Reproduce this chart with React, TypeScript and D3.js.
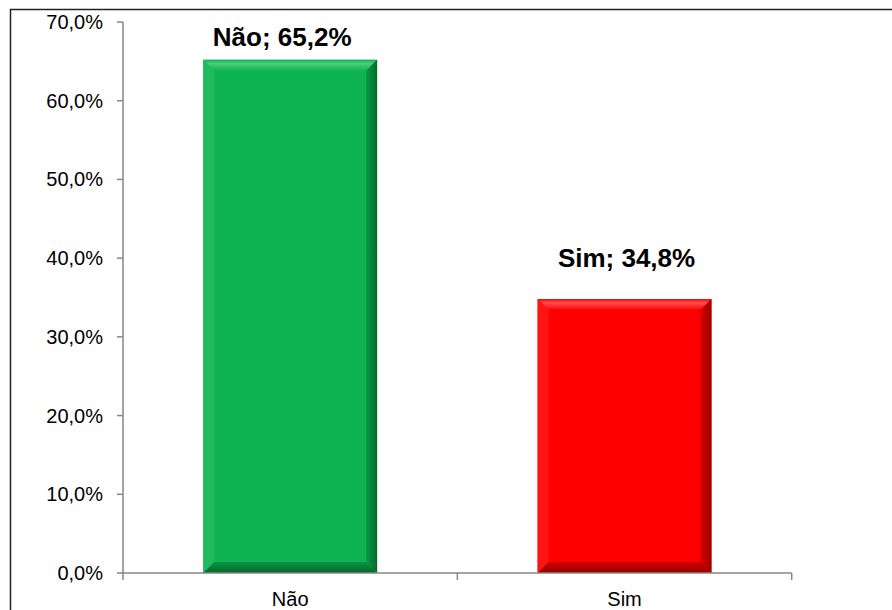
import React from "react";
import * as d3 from "d3";

const categories = ["Não", "Sim"];
const values = [65.2, 34.8];
const yTicks = [0, 10, 20, 30, 40, 50, 60, 70];

const W = 892;
const H = 610;
const axisLeft = 123;
const axisRight = 791.7;
const axisBottom = 573;
const axisTop = 22;

const palettes = [
  { base: "#0EB352", top: "#4ACD7B", left: "#1FBB5C", right: "#0A9A45", rightEdge: "#046B2C", bottom: "#0A9442", bottomEdge: "#05682C" },
  { base: "#FF0000", top: "#FF5050", left: "#FF1414", right: "#D80000", rightEdge: "#9A0000", bottom: "#D00000", bottomEdge: "#980000" },
];

// label placement tweaks (dx, offset above bar top)
const labelShift = [
  { dx: -8, dy: -14 },
  { dx: 2, dy: -32 },
];

const fmt = (v: number) => v.toFixed(1).replace(".", ",") + "%";

export default function App() {
  const x = d3
    .scaleBand<string>()
    .domain(categories)
    .range([axisLeft, axisRight])
    .paddingInner(0.48)
    .paddingOuter(0.24);
  const y = d3.scaleLinear().domain([0, 70]).range([axisBottom, axisTop]);
  const step = x.step();
  const bw = x.bandwidth();
  const bev = 11;
  const font = "'Liberation Sans', Arial, sans-serif";

  return (
    <svg
      width={W}
      height={H}
      style={{ position: "absolute", left: 0, top: 0, background: "#fff" }}
      fontFamily={font}
    >
      <defs>
        {palettes.map((p, i) => (
          <React.Fragment key={i}>
            <linearGradient id={`rg${i}`} x1="0" x2="1" y1="0" y2="0">
              <stop offset="0" stopColor={p.right} />
              <stop offset="1" stopColor={p.rightEdge} />
            </linearGradient>
            <linearGradient id={`bg${i}`} x1="0" x2="0" y1="0" y2="1">
              <stop offset="0" stopColor={p.bottom} />
              <stop offset="1" stopColor={p.bottomEdge} />
            </linearGradient>
            <linearGradient id={`tg${i}`} x1="0" x2="0" y1="0" y2="1">
              <stop offset="0" stopColor={p.base} />
              <stop offset="0.35" stopColor={p.top} />
              <stop offset="1" stopColor={p.base} />
            </linearGradient>
          </React.Fragment>
        ))}
      </defs>

      {/* outer frame */}
      <path d={`M10.5,${H} V9.5 H${W}`} fill="none" stroke="#222" strokeWidth={1.5} />

      {/* bars with bevelled edges */}
      {categories.map((c, i) => {
        const x0 = x(c)!;
        const x1 = x0 + bw;
        const y0 = y(values[i]);
        const y1 = y(0);
        const p = palettes[i];
        return (
          <g key={c}>
            <rect x={x0} y={y0} width={bw} height={y1 - y0} fill={p.base} />
            <polygon
              points={`${x0},${y0} ${x1},${y0} ${x1 - bev},${y0 + bev} ${x0 + bev},${y0 + bev}`}
              fill={`url(#tg${i})`}
            />
            <polygon
              points={`${x0},${y0} ${x0 + bev},${y0 + bev} ${x0 + bev},${y1 - bev} ${x0},${y1}`}
              fill={p.left}
            />
            <polygon
              points={`${x1},${y0} ${x1},${y1} ${x1 - bev},${y1 - bev} ${x1 - bev},${y0 + bev}`}
              fill={`url(#rg${i})`}
            />
            <polygon
              points={`${x0},${y1} ${x1},${y1} ${x1 - bev},${y1 - bev} ${x0 + bev},${y1 - bev}`}
              fill={`url(#bg${i})`}
            />
            <text
              x={x0 + bw / 2 + labelShift[i].dx}
              y={y0 + labelShift[i].dy}
              textAnchor="middle"
              fontWeight="bold"
              fontSize={26}
              fill="#000"
            >
              {`${c}; ${fmt(values[i])}`}
            </text>
          </g>
        );
      })}

      {/* y axis */}
      <line x1={axisLeft} x2={axisLeft} y1={axisTop} y2={axisBottom} stroke="#868686" strokeWidth={1.5} />
      {yTicks.map((t) => (
        <g key={t}>
          <line x1={axisLeft - 6} x2={axisLeft} y1={y(t)} y2={y(t)} stroke="#868686" strokeWidth={1.5} />
          <text x={axisLeft - 20} y={y(t)} dy="0.35em" textAnchor="end" fontSize={20} fill="#000">
            {fmt(t)}
          </text>
        </g>
      ))}

      {/* x axis */}
      <line x1={axisLeft} x2={axisRight} y1={axisBottom} y2={axisBottom} stroke="#868686" strokeWidth={1.5} />
      {[0, 1, 2].map((k) => (
        <line
          key={k}
          x1={axisLeft + k * step}
          x2={axisLeft + k * step}
          y1={axisBottom}
          y2={axisBottom + 7}
          stroke="#868686"
          strokeWidth={1.5}
        />
      ))}
      {categories.map((c) => (
        <text key={c} x={x(c)! + bw / 2} y={axisBottom + 33} textAnchor="middle" fontSize={20} fill="#000">
          {c}
        </text>
      ))}
    </svg>
  );
}
